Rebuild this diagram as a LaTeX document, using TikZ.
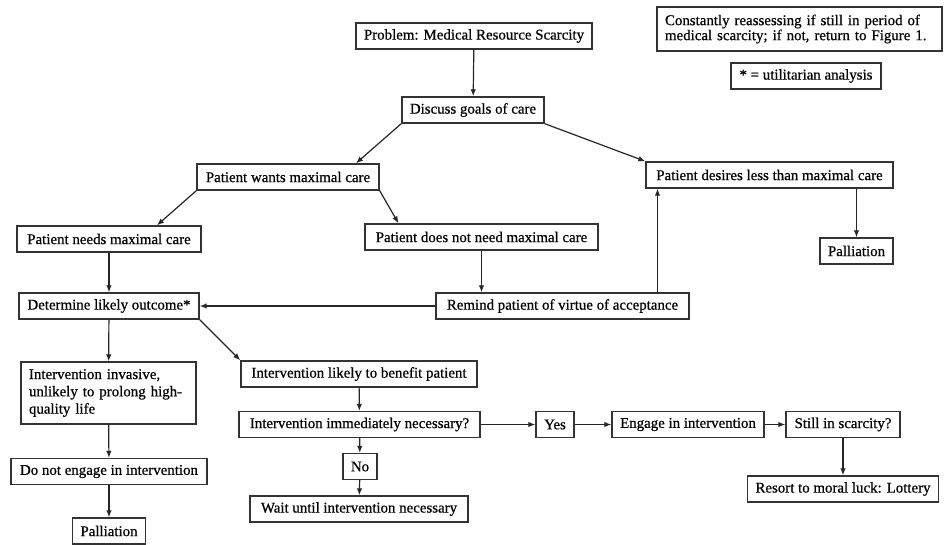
\documentclass[tikz,border=0pt]{standalone}
\usepackage{fontspec}
\setmainfont{Liberation Serif}[UprightFeatures={FakeBold=0.6}]
\usetikzlibrary{arrows.meta}
\tikzset{
box/.style={draw=black!80, line width=1.4pt, minimum height=26pt, inner xsep=8pt, inner ysep=2pt,
  font=\fontsize{14.9pt}{17.3pt}\selectfont},
link/.style={draw=black!85, line width=1.2pt, -{Latex[length=7pt,width=5.5pt]}}
}

\begin{document}
\begin{tikzpicture}[x=1pt, y=-1pt]
\useasboundingbox[fill=white] (0,0) rectangle (945,544);
\node[box, minimum width=236pt] (prob) at (474,36) {Problem: Medical Resource Scarcity};
\node[box, minimum width=142pt] (disc) at (473,110) {Discuss goals of care};
\node[box, minimum width=182pt] (wants) at (288,177) {Patient wants maximal care};
\node[box, minimum width=247pt] (desires) at (769.5,175) {Patient desires less than maximal care};
\node[box, minimum width=73pt] (pall1) at (856.5,251) {Palliation};
\node[box, minimum width=184pt] (needs) at (109,239) {Patient needs maximal care};
\node[box, minimum width=233pt] (notneed) at (481.5,237) {Patient does not need maximal care};
\node[box, minimum width=180pt] (outcome) at (109,306) {Determine likely outcome*};
\node[box, minimum width=253pt] (remind) at (562.5,306) {Remind patient of virtue of acceptance};
\node[box, text width=159pt, align=left, minimum height=62pt] (invasive) at (108.5,393)
  {Intervention invasive,\\ unlikely to prolong high-\\quality life};
\node[box, minimum width=236pt] (benefit) at (359,374) {Intervention likely to benefit patient};
\node[box, minimum width=241pt] (immed) at (359.5,424.5) {Intervention immediately necessary?};
\node[box, minimum width=34pt, inner xsep=3pt] (no) at (360,466.5) {No};
\node[box, minimum width=218pt] (wait) at (359,509) {Wait until intervention necessary};
\node[box, minimum width=196pt] (noengage) at (109,471.5) {Do not engage in intervention};
\node[box, minimum width=72pt] (pall2) at (109,531) {Palliation};
\node[box, minimum width=38pt, inner xsep=3pt] (yes) at (555,424.5) {Yes};
\node[box, minimum width=152pt] (engage) at (688,424.5) {Engage in intervention};
\node[box, minimum width=114pt] (still) at (843,424.5) {Still in scarcity?};
\node[box, minimum width=188pt] (lottery) at (843,489) {Resort to moral luck: Lottery};
\node[box, text width=269pt, align=left, minimum height=44pt, font=\fontsize{14.9pt}{15pt}\selectfont] (reassess) at (799.5,29)
  {Constantly reassessing if still in period of\\ medical scarcity; if not, return to Figure 1.};
\node[box, minimum width=150pt] (key) at (806,76) {* = utilitarian analysis};

\draw[link] (prob) -- (disc);
\draw[link] (disc.south west) -- ([xshift=68pt]wants.north);
\draw[link] (disc.south east) -- (desires.north west);
\draw[link] (desires.south -| pall1.north) -- (pall1.north);
\draw[link] (wants.south west) -- ([xshift=48pt]needs.north);
\draw[link] (wants.south east) -- ([xshift=-83pt]notneed.north);
\draw[link] (needs) -- (outcome);
\draw[link] (notneed.south) -- (notneed.south |- remind.north);
\draw[link] ([xshift=95pt]remind.north) -- ([xshift=95pt]remind.north |- desires.south);
\draw[link] (remind) -- (outcome);
\draw[link] (outcome) -- (invasive);
\draw[link] (outcome.south east) -- (benefit.north west);
\draw[link] (invasive) -- (noengage);
\draw[link] (noengage) -- (pall2);
\draw[link] (benefit) -- (immed);
\draw[link] (immed) -- (no);
\draw[link] (no) -- (wait);
\draw[link] (immed) -- (yes);
\draw[link] (yes) -- (engage);
\draw[link] (engage) -- (still);
\draw[link] (still) -- (lottery);
\end{tikzpicture}
\end{document}
